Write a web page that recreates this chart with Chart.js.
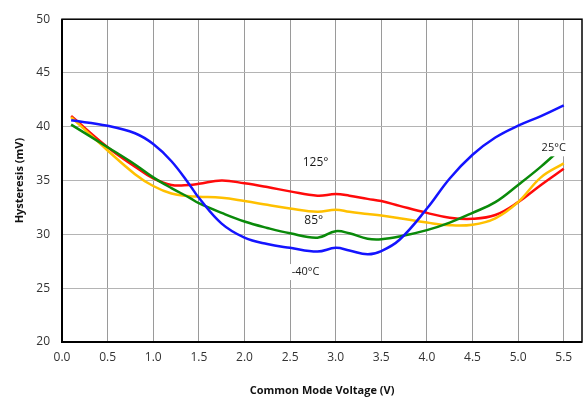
<!DOCTYPE html>
<html>
<head>
<meta charset="utf-8">
<script src="https://cdn.jsdelivr.net/npm/chart.js@4"></script>
<style>
  html, body { margin: 0; padding: 0; background: #fff; }
  #wrap { width: 584px; height: 401px; position: relative; }
</style>
</head>
<body>
<div id="wrap"><canvas id="chart"></canvas></div>
<script>
// Common mode voltage (V)
const voltage = [0.1, 0.5, 0.8, 1.0, 1.2, 1.4, 1.5, 1.75, 2.0, 2.25, 2.5, 2.8, 3.0, 3.15, 3.35, 3.5, 3.7, 4.0, 4.25, 4.5, 4.75, 5.0, 5.25, 5.5];

// Hysteresis (mV) per temperature
const minus40 = [40.6, 40.1, 39.4, 38.4, 36.8, 34.6, 33.4, 31.0, 29.7, 29.1, 28.75, 28.4, 28.75, 28.5, 28.15, 28.45, 29.5, 32.4, 35.2, 37.4, 39.0, 40.1, 41.0, 42.0];
const t25 = [40.2, 38.1, 36.5, 35.3, 34.3, 33.4, 32.9, 32.0, 31.2, 30.6, 30.1, 29.7, 30.3, 30.1, 29.6, 29.55, 29.8, 30.4, 31.1, 32.0, 33.0, 34.6, 36.3, 38.2];
const t85 = [40.9, 37.8, 35.6, 34.5, 33.8, 33.55, 33.5, 33.4, 33.1, 32.75, 32.4, 32.1, 32.3, 32.1, 31.9, 31.75, 31.5, 31.1, 30.85, 30.9, 31.5, 33.0, 35.3, 36.6];
const t125 = [41.0, 38.1, 36.3, 35.2, 34.6, 34.6, 34.7, 35.0, 34.75, 34.4, 34.0, 33.6, 33.75, 33.6, 33.3, 33.1, 32.65, 32.0, 31.55, 31.45, 31.8, 33.0, 34.6, 36.1];

const xTicks = [0, 0.5, 1.0, 1.5, 2.0, 2.5, 3.0, 3.5, 4.0, 4.5, 5.0, 5.5];

// in-plot temperature labels
const labelText = ['125°', '85°', '-40°C', '25°C'];
const labelX = [2.78, 2.76, 2.67, 5.39];
const labelY = [36.7, 31.3, 26.5, 38.0];
const labelSize = [12, 12, 11, 11];
const labelBox = [false, false, true, true];

function pts(ys) {
    return voltage.map(function (v, i) { return { x: v, y: ys[i] }; });
}

function line(label, ys, color) {
    return {
        label: label,
        data: pts(ys),
        borderColor: color,
        backgroundColor: color,
        borderWidth: 2.5,
        pointRadius: 0,
        showLine: true,
        tension: 0.4,
        fill: false
    };
}

// frame + text labels
const decorations = {
    id: 'decorations',
    afterDatasetsDraw: function (chart) {
        const ctx = chart.ctx;
        const a = chart.chartArea;
        const xs = chart.scales.x, ys = chart.scales.y;
        ctx.save();
        ctx.textAlign = 'center';
        ctx.textBaseline = 'middle';
        for (let i = 0; i < labelText.length; i++) {
            ctx.font = labelSize[i] + 'px "Open Sans"';
            const px = xs.getPixelForValue(labelX[i]);
            const py = ys.getPixelForValue(labelY[i]);
            if (labelBox[i]) {
                const w = ctx.measureText(labelText[i]).width + 6;
                ctx.fillStyle = '#fff';
                ctx.fillRect(px - w / 2, py - 8, w, 16);
            }
            ctx.fillStyle = '#1a1a1a';
            ctx.fillText(labelText[i], px, py);
        }
        ctx.strokeStyle = '#000';
        ctx.lineWidth = 1.5;
        ctx.strokeRect(a.left, a.top, a.right - a.left, a.bottom - a.top);
        ctx.lineWidth = 2;
        ctx.beginPath();
        ctx.moveTo(a.left, a.top);
        ctx.lineTo(a.left, a.bottom);
        ctx.lineTo(a.right, a.bottom);
        ctx.stroke();
        ctx.restore();
    }
};

new Chart(document.getElementById('chart'), {
    type: 'scatter',
    data: {
        datasets: [
            line('-40°C', minus40, '#1414ff'),
            line('25°C', t25, '#0a8a0a'),
            line('85°C', t85, '#ffc000'),
            line('125°C', t125, '#ff0a0a')
        ]
    },
    options: {
        responsive: true,
        maintainAspectRatio: false,
        animation: false,
        layout: { padding: { top: 15, right: 2, left: 0, bottom: 0 } },
        plugins: {
            legend: { display: false },
            tooltip: { enabled: false }
        },
        scales: {
            x: {
                type: 'linear',
                min: 0,
                max: 5.7,
                afterBuildTicks: function (axis) {
                    axis.ticks = xTicks.map(function (v) { return { value: v }; });
                },
                afterFit: function (scale) { scale.height = 59; },
                grid: { color: '#9a9a9a', lineWidth: 1, drawTicks: false },
                border: { display: false },
                ticks: {
                    padding: 8,
                    color: '#333',
                    font: { family: 'Open Sans', size: 12 },
                    maxRotation: 0,
                    callback: function (v) { return Number(v).toFixed(1); }
                },
                title: {
                    display: true,
                    text: 'Common Mode Voltage (V)',
                    color: '#111',
                    font: { family: 'Open Sans', size: 11, weight: 'bold' },
                    padding: { top: 0, bottom: 4 }
                }
            },
            y: {
                min: 20,
                max: 50,
                afterFit: function (scale) { scale.width = 62; },
                grid: { color: '#b4b4b4', lineWidth: 1, drawTicks: false },
                border: { display: false },
                ticks: {
                    stepSize: 5,
                    padding: 12,
                    color: '#333',
                    font: { family: 'Open Sans', size: 12 }
                },
                title: {
                    display: true,
                    text: 'Hysteresis (mV)',
                    color: '#111',
                    font: { family: 'Open Sans', size: 11, weight: 'bold' },
                    padding: { top: 13, bottom: 0 }
                }
            }
        }
    },
    plugins: [decorations]
});
</script>
</body>
</html>
